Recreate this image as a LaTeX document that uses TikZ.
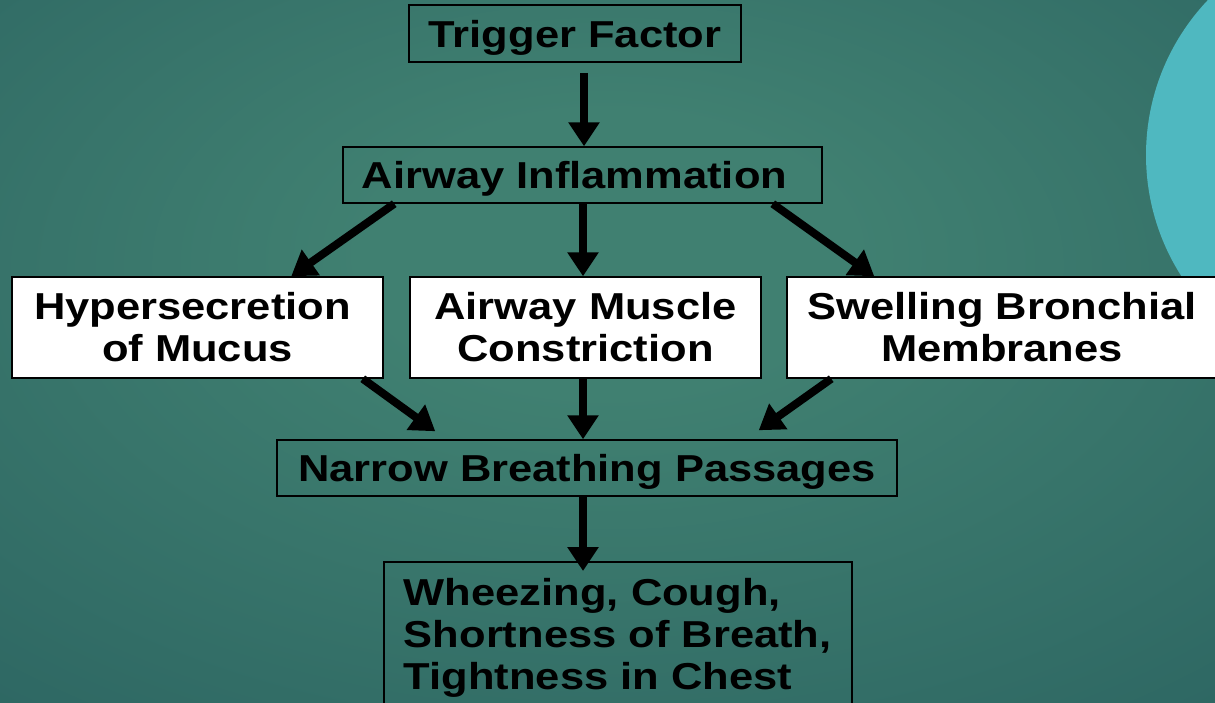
\documentclass[tikz,border=0pt]{standalone}
\usepackage{fontspec}
\setmainfont{Liberation Sans}[FakeStretch=1.16]
\usetikzlibrary{arrows.meta,calc}
\definecolor{bgin}{RGB}{64,128,113}
\definecolor{bgmid}{RGB}{42,98,96}
\definecolor{bgout}{RGB}{27,66,76}
\definecolor{cyanc}{RGB}{79,184,192}
\pgfdeclareradialshading{bgshade}{\pgfpoint{0bp}{8bp}}{color(0bp)=(bgin); color(10bp)=(bgin); color(45bp)=(bgmid); color(78bp)=(bgout)}
\begin{document}
\begin{tikzpicture}[x=1pt,y=-1pt,
  box/.style={draw=black, line width=1.5pt, inner sep=0pt,
    font=\bfseries\fontsize{37.5}{42}\selectfont, align=center},
  onebox/.style={box, text height=27pt, text depth=0pt},
  wbox/.style={box, fill=white},
  arr/.style={line width=8pt, -{Triangle[width=30pt,length=24pt]}}]
\useasboundingbox (0,0) rectangle (1215,702);
\shade[shading=bgshade] (0,0) rectangle (1215,702);
\fill[cyanc] (1371,155) circle [radius=225pt];

\node[onebox, minimum width=332pt, minimum height=57pt] (trig) at (575,33.5) {Trigger Factor};
\node[onebox, minimum width=479pt, minimum height=56pt] (ai) at (582.5,175) {Airway Inflammation\kern16pt};
\node[wbox, minimum width=371pt, minimum height=101pt] (hyp) at (197.5,327.5) {Hypersecretion\kern10pt\\of Mucus};
\node[wbox, minimum width=351pt, minimum height=101pt] (mus) at (585.5,327.5) {Airway Muscle\\Constriction};
\node[wbox, minimum width=430pt, minimum height=101pt] (swe) at (1002,327.5) {Swelling Bronchial\\Membranes};
\node[onebox, minimum width=620pt, minimum height=56pt] (nar) at (587,468) {Narrow Breathing Passages};
\node[box, align=left, anchor=north west, minimum width=468pt, minimum height=152pt, inner xsep=17pt] (whz) at (383,561) {Wheezing, Cough,\\Shortness of Breath,\\Tightness in Chest};

\draw[arr] ([xshift=9pt,yshift=-10pt]trig.south) -- ([xshift=1.5pt]ai.north);
\draw[arr] ([xshift=52pt]ai.south west) -- ([xshift=280pt]hyp.north west);
\draw[arr] ([xshift=0.5pt]ai.south) -- ([xshift=-2.5pt]mus.north);
\draw[arr] ([xshift=-50pt]ai.south east) -- ([xshift=88pt]swe.north west);
\draw[arr] ([xshift=-21pt]hyp.south east) -- ([xshift=159pt,yshift=8pt]nar.north west);
\draw[arr] ([xshift=-2.5pt]mus.south) -- ([xshift=-4pt]nar.north);
\draw[arr] ([xshift=45pt]swe.south west) -- ([xshift=-139pt,yshift=9pt]nar.north east);
\draw[arr] ([xshift=-4pt]nar.south) -- ([xshift=200pt,yshift=-10pt]whz.north west);
\end{tikzpicture}
\end{document}
